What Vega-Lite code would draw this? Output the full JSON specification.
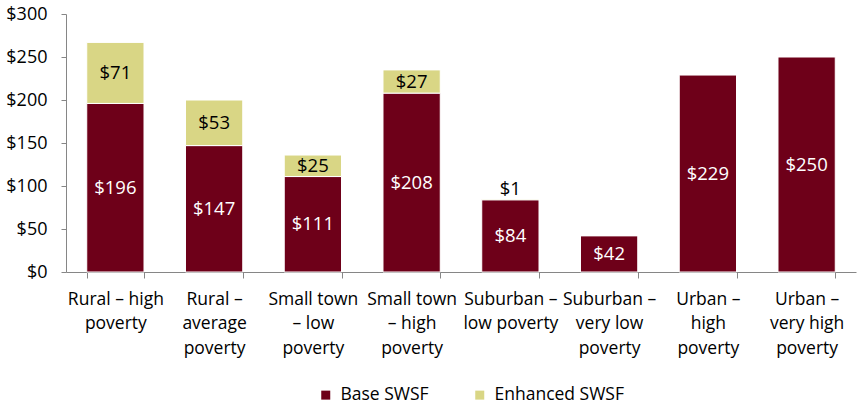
{
  "$schema": "https://vega.github.io/schema/vega-lite/v6.json",
  "autosize": {"type": "none"},
  "width": 790,
  "height": 258,
  "padding": {"left": 66, "top": 14, "right": 1, "bottom": 135},
  "background": "white",
  "config": {
    "view": {"stroke": null},
    "font": "Open Sans",
    "axis": {"labelFont": "Open Sans", "labelFontSize": 18, "labelColor": "#000000", "domainColor": "#868686", "tickColor": "#868686", "grid": false, "title": null},
    "legend": {"labelFont": "Open Sans", "labelFontSize": 17.5, "labelColor": "#000000"}
  },
  "data": {
    "values": [
      {"cat": "Rural – high|poverty", "series": "Base SWSF", "value": 196},
      {"cat": "Rural – high|poverty", "series": "Enhanced SWSF", "value": 71},
      {"cat": "Rural –|average|poverty", "series": "Base SWSF", "value": 147},
      {"cat": "Rural –|average|poverty", "series": "Enhanced SWSF", "value": 53},
      {"cat": "Small town|– low|poverty", "series": "Base SWSF", "value": 111},
      {"cat": "Small town|– low|poverty", "series": "Enhanced SWSF", "value": 25},
      {"cat": "Small town|– high|poverty", "series": "Base SWSF", "value": 208},
      {"cat": "Small town|– high|poverty", "series": "Enhanced SWSF", "value": 27},
      {"cat": "Suburban –|low poverty", "series": "Base SWSF", "value": 84},
      {"cat": "Suburban –|low poverty", "series": "Enhanced SWSF", "value": 1},
      {"cat": "Suburban –|very low|poverty", "series": "Base SWSF", "value": 42},
      {"cat": "Urban –|high|poverty", "series": "Base SWSF", "value": 229},
      {"cat": "Urban –|very high|poverty", "series": "Base SWSF", "value": 250}
    ]
  },
  "transform": [
    {"stack": "value", "groupby": ["cat"], "sort": [{"field": "series", "order": "ascending"}], "as": ["v0", "v1"]},
    {"calculate": "(datum.v0 + datum.v1) / 2", "as": "mid"}
  ],
  "encoding": {
    "x": {
      "field": "cat", "type": "nominal", "sort": null,
      "scale": {"paddingInner": 0.42, "paddingOuter": 0.21},
      "axis": {"labelAngle": 0, "labelFontSize": 17.5, "labelExpr": "split(datum.label, '|')", "labelLineHeight": 24.5, "tickBand": "extent", "tickSize": 6, "labelPadding": 12, "labelLimit": 200}
    }
  },
  "layer": [
    {
      "mark": {"type": "bar", "stroke": "white", "strokeWidth": 1},
      "encoding": {
        "y": {"field": "v0", "type": "quantitative", "scale": {"domain": [0, 300]}, "axis": {"values": [0, 50, 100, 150, 200, 250, 300], "format": "$.0f", "tickSize": 5, "labelPadding": 14}},
        "y2": {"field": "v1"},
        "color": {
          "field": "series", "type": "nominal",
          "scale": {"domain": ["Base SWSF", "Enhanced SWSF"], "range": ["#6e0019", "#d9d685"]},
          "legend": {"title": null, "orient": "none", "direction": "horizontal", "legendX": 251, "legendY": 372, "symbolType": "square", "symbolSize": 81, "symbolStrokeWidth": 0, "columnPadding": 42, "labelOffset": 6}
        }
      }
    },
    {
      "transform": [{"filter": "datum.value >= 5"}],
      "mark": {"type": "text", "fontSize": 18.5, "font": "Open Sans", "baseline": "middle"},
      "encoding": {
        "y": {"field": "mid", "type": "quantitative"},
        "text": {"field": "value", "type": "quantitative", "format": "$.0f"},
        "color": {"condition": {"test": "datum.series === 'Base SWSF'", "value": "white"}, "value": "black"}
      }
    },
    {
      "transform": [{"filter": "datum.value < 5"}],
      "mark": {"type": "text", "fontSize": 18.5, "font": "Open Sans", "baseline": "middle", "dy": -10, "color": "black"},
      "encoding": {
        "y": {"field": "mid", "type": "quantitative"},
        "text": {"field": "value", "type": "quantitative", "format": "$.0f"}
      }
    }
  ]
}
